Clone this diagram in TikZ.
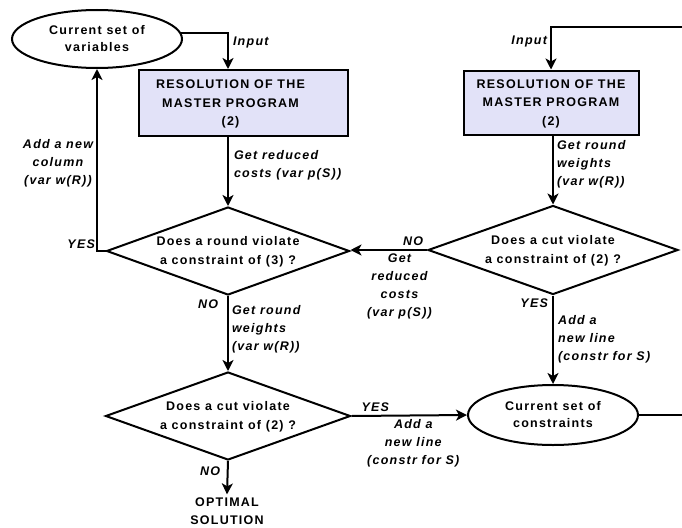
\documentclass[tikz,border=0pt]{standalone}
\usepackage{fontspec}
\setmainfont{Liberation Sans}[LetterSpace=10]
\usetikzlibrary{shapes.geometric,arrows.meta}

\definecolor{boxfill}{RGB}{226,226,248}

% text of a shape, kept out of the shape's size
\newcommand{\ntext}[2][0pt]{\smash{\makebox[0pt]{\hspace*{#1}\raisebox{-3.5pt}{\begin{tabular}{@{}c@{}}#2\end{tabular}}}}}

\tikzset{
    flow/.style = {
        line width=2pt,
        -{Stealth[length=11pt,width=11pt,inset=3pt]}
    },
    setnode/.style = {
        draw,
        ellipse,
        line width=2pt,
        inner sep=0pt,
        font=\bfseries\fontsize{12.5}{16.5}\selectfont
    },
    master/.style = {
        draw,
        rectangle,
        line width=2pt,
        fill=boxfill,
        inner sep=0pt,
        font=\bfseries\fontsize{12.5}{18.5}\selectfont
    },
    test/.style = {
        draw,
        diamond,
        line width=2pt,
        inner sep=0pt,
        font=\bfseries\fontsize{12.5}{19}\selectfont
    },
    tag/.style = {
        inner sep=1pt,
        font=\bfseries\itshape\fontsize{12.5}{18}\selectfont
    }
}

\begin{document}
\begin{tikzpicture}[x=1pt,y=-1pt]
    \useasboundingbox (0,0) rectangle (682,527);

    % Draw all shapes
    \node[setnode, minimum width=170pt, minimum height=58pt] (vars) at (97,39) {\ntext{Current set of\\variables}};
    \node[master, minimum width=209pt, minimum height=66pt] (mp1) at (243.5,103) {\ntext[-26pt]{RESOLUTION OF THE\\MASTER PROGRAM\\(2)}};
    \node[test, minimum width=243pt, minimum height=88pt] (d1) at (228,251) {\ntext{Does a round violate\\a constraint of (3) ?}};
    \node[test, minimum width=245pt, minimum height=88pt] (d2) at (228,416) {\ntext{Does a cut violate\\a constraint of (2) ?}};
    \node[tag, font=\bfseries\fontsize{12.5}{18}\selectfont, inner sep=3pt, align=center] (opt) at (227,511) {OPTIMAL\\SOLUTION};

    \node[master, minimum width=175pt, minimum height=64pt] (mp2) at (551,102.5) {\ntext{RESOLUTION OF THE\\MASTER PROGRAM\\(2)}};
    \node[test, minimum width=250pt, minimum height=89pt] (d3) at (553,250) {\ntext{Does a cut violate\\a constraint of (2) ?}};
    \node[setnode, minimum width=170pt, minimum height=60pt] (cons) at (553,415) {\ntext{Current set of\\constraints}};
    \coordinate (loop) at (700,27);

    % Draw arrows
    \draw[flow] (vars.4) -| (d1.north |- mp1.north) node[tag, pos=0.5, anchor=north west, xshift=3pt, yshift=-2pt] {Input};
    \draw[flow] (mp1.south -| d1.north) -- (d1.north) node[tag, pos=0, anchor=north west, align=left, xshift=4pt, yshift=-11pt] {Get reduced\\costs (var p(S))};
    \draw[flow] (d1.west) -| (vars.south) node[tag, pos=0.5, anchor=south east] {YES} node[tag, pos=0.74, anchor=east, align=center, xshift=-2pt] {Add a new\\column\\(var w(R))};
    \draw[flow] (d1.south) -- (d2.north) node[tag, pos=0, anchor=north east, xshift=-8pt, yshift=-2pt] {NO} node[tag, pos=0, anchor=north west, align=left, xshift=2pt, yshift=-7pt] {Get round\\weights\\(var w(R))};
    \draw[flow] (d2.south) -- (opt.north) node[tag, pos=0, anchor=north east, xshift=-6pt, yshift=-4pt] {NO};
    \draw[flow] (d2.east) -- (cons.west) node[tag, pos=0, anchor=south west, xshift=8pt, yshift=2pt] {YES} node[tag, midway, anchor=north, align=center, xshift=4pt, yshift=-2pt] {Add a\\new line\\(constr for S)};
    %
    \draw[flow] (cons.east) -| (loop) -| (mp2.north) node[tag, pos=0.5, anchor=north east, xshift=-2pt, yshift=-7pt] {Input};
    \draw[flow] (mp2.south -| d3.north) -- (d3.north) node[tag, pos=0, anchor=north west, align=left, xshift=2pt, yshift=-3pt] {Get round\\weights\\(var w(R))};
    \draw[flow] (d3.west) -- (d3.west -| d1.east) node[tag, pos=0, anchor=south east, xshift=-2pt, yshift=2pt] {NO} node[tag, pos=0.36, anchor=north, align=center, yshift=-2pt] {Get\\reduced\\costs\\(var p(S))};
    \draw[flow] (d3.south) -- (cons.north) node[tag, pos=0, anchor=north east, xshift=-3pt, yshift=-1pt] {YES} node[tag, pos=0, anchor=north west, align=left, xshift=3pt, yshift=-18pt] {Add a\\new line\\(constr for S)};
\end{tikzpicture}
\end{document}
